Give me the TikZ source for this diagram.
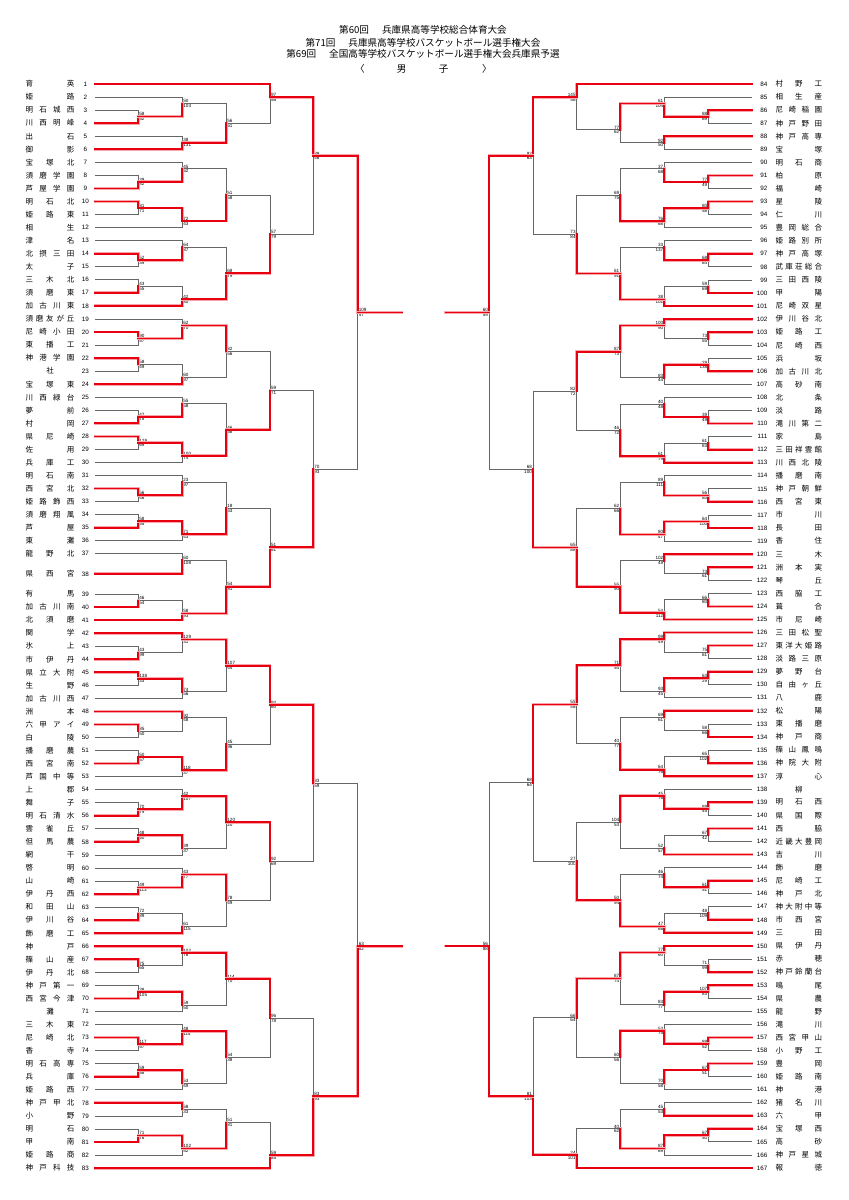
\documentclass[tikz,border=0pt]{standalone}
\usepackage{fontspec}
\setmainfont{Liberation Sans}
\newfontfamily\jp{Noto Sans CJK JP}
\usetikzlibrary{calc}
\pgfdeclarelayer{top}
\pgfsetlayers{main,top}
\definecolor{myred}{RGB}{232,0,16}
\makeatletter
\newdimen\namew
\def\spreadname#1{\hbox to \namew{\sp@first#1\sp@end}}
\def\sp@first#1{#1\sp@next}
\def\sp@next#1{\ifx#1\sp@end\else\hfil#1\expandafter\sp@next\fi}
\def\sp@end{\sp@end}
\makeatother
\pgfmathdeclarefunction{yl}{1}{\pgfmathparse{84+(#1-1)*13.05+14*(#1>38)+7*(#1==38)}}
\pgfmathdeclarefunction{yr}{1}{\pgfmathparse{84+(#1-84)*13.06}}
\def\xLa{138.3}\def\xLb{182.3}\def\xLc{226.3}\def\xLd{270}\def\xLe{313.3}\def\xLf{357.7}
\def\xRa{708.3}\def\xRb{664.3}\def\xRc{620.3}\def\xRd{576.7}\def\xRe{533}\def\xRf{489}
\tikzset{
 lose/.style={draw=black!60, line width=0.8pt},
 win/.style={draw=myred, line width=1.7pt, line cap=rect, preaction={draw=myred!35, line width=2.9pt, line cap=rect}},
 nm/.style={inner sep=0pt, font=\jp\fontsize{7.5}{8}\selectfont},
 num/.style={inner sep=0pt, font=\fontsize{6.3}{7}\selectfont},
 sc/.style={inner sep=0pt, font=\fontsize{4.6}{5}\selectfont},
 ttl/.style={inner sep=0pt, font=\jp\fontsize{9.6}{11}\selectfont},
}
% team on left / right
\newcommand\TL[2]{%
 \coordinate (L#1) at (95,{yl(#1)});
 \node[num] (Ln#1) at (85.5,{yl(#1)}) {#1};
 \node[nm] (Lt#1) at (50,{yl(#1)}) {\spreadname{#2}};}
\newcommand\TR[2]{%
 \coordinate (R#1) at (751.7,{yr(#1)});
 \node[num, anchor=east] (Rn#1) at (767.5,{yr(#1)}) {#1};
 \node[nm] (Rt#1) at (798.85,{yr(#1)}) {\spreadname{#2}};}
% match: name, x, y, top, bottom, winner, top score, bottom score
\newcommand\MM[8]{%
 \coordinate (#1) at (#2,{#3});
 \if#6T
  \draw[lose] (#5) -- (#5 -| #1) -- (#1);
  \begin{pgfonlayer}{top}\draw[win] (#4) -- (#4 -| #1) -- (#1);\end{pgfonlayer}
 \else
  \draw[lose] (#4) -- (#4 -| #1) -- (#1);
  \begin{pgfonlayer}{top}\draw[win] (#5) -- (#5 -| #1) -- (#1);\end{pgfonlayer}
 \fi}
\newcommand\ML[8]{\MM{#1}{#2}{#3}{#4}{#5}{#6}{#7}{#8}%
 \node[sc, anchor=south west] (#1a) at ($(#1)+(0.9,-0.5)$) {#7};
 \node[sc, anchor=north west] (#1b) at ($(#1)+(0.9,0.7)$) {#8};}
\newcommand\MR[8]{\MM{#1}{#2}{#3}{#4}{#5}{#6}{#7}{#8}%
 \node[sc, anchor=south east] (#1a) at ($(#1)+(-0.9,-0.5)$) {#7};
 \node[sc, anchor=north east] (#1b) at ($(#1)+(-0.9,0.7)$) {#8};}
\begin{document}
\begin{tikzpicture}[x=1pt,y=-1pt]
\fill[white] (0,0) rectangle (849,1200);
\useasboundingbox (0,0) rectangle (849,1200);
% titles
\node[ttl] (ti1) at (423,30.3) {第60回\hspace{13pt}兵庫県高等学校総合体育大会};
\node[ttl] (ti2) at (423,43) {第71回\hspace{13pt}兵庫県高等学校バスケットボール選手権大会};
\node[ttl] (ti3) at (423,54) {第69回\hspace{13pt}全国高等学校バスケットボール選手権大会兵庫県予選};
\node[ttl] (ti4a) at (360,69) {〈};
\node[ttl] (ti4b) at (401.7,69) {男};
\node[ttl] (ti4c) at (443.7,69) {子};
\node[ttl] (ti4d) at (487,69) {〉};
% left teams
\global\namew=48.8pt
\TL{1}{育英}\TL{2}{姫路}\TL{3}{明石城西}\TL{4}{川西明峰}\TL{5}{出石}\TL{6}{御影}
\TL{7}{宝塚北}\TL{8}{須磨学園}\TL{9}{芦屋学園}\TL{10}{明石北}\TL{11}{姫路東}\TL{12}{相生}
\TL{13}{津名}\TL{14}{北摂三田}\TL{15}{太子}\TL{16}{三木北}\TL{17}{須磨東}\TL{18}{加古川東}
\TL{19}{須磨友が丘}\TL{20}{尼崎小田}\TL{21}{東播工}\TL{22}{神港学園}\TL{23}{\hfil 社\hfil}\TL{24}{宝塚東}
\TL{25}{川西緑台}\TL{26}{夢前}\TL{27}{村岡}\TL{28}{県尼崎}\TL{29}{佐用}\TL{30}{兵庫工}
\TL{31}{明石南}\TL{32}{西宮北}\TL{33}{姫路飾西}\TL{34}{須磨翔風}\TL{35}{芦屋}\TL{36}{東灘}
\TL{37}{龍野北}\TL{38}{県西宮}\TL{39}{有馬}\TL{40}{加古川南}\TL{41}{北須磨}
\TL{42}{関学}\TL{43}{氷上}\TL{44}{市伊丹}\TL{45}{県立大附}\TL{46}{生野}\TL{47}{加古川西}
\TL{48}{洲本}\TL{49}{六甲アイ}\TL{50}{白陵}\TL{51}{播磨農}\TL{52}{西宮南}\TL{53}{芦国中等}
\TL{54}{上郡}\TL{55}{舞子}\TL{56}{明石清水}\TL{57}{雲雀丘}\TL{58}{但馬農}\TL{59}{網干}
\TL{60}{啓明}\TL{61}{山崎}\TL{62}{伊丹西}\TL{63}{和田山}\TL{64}{伊川谷}\TL{65}{飾磨工}
\TL{66}{神戸}\TL{67}{篠山産}\TL{68}{伊丹北}\TL{69}{神戸第一}\TL{70}{西宮今津}\TL{71}{\hfil 灘\hfil}
\TL{72}{三木東}\TL{73}{尼崎北}\TL{74}{香寺}\TL{75}{明石高専}\TL{76}{兵庫}\TL{77}{姫路西}
\TL{78}{神戸甲北}\TL{79}{小野}\TL{80}{明石}\TL{81}{甲南}\TL{82}{姫路商}\TL{83}{神戸科技}
% right teams
\global\namew=46.5pt
\TR{84}{村野工}\TR{85}{相生産}\TR{86}{尼崎稲園}\TR{87}{神戸野田}\TR{88}{神戸高専}\TR{89}{宝塚}
\TR{90}{明石商}\TR{91}{柏原}\TR{92}{福崎}\TR{93}{星陵}\TR{94}{仁川}\TR{95}{豊岡総合}
\TR{96}{姫路別所}\TR{97}{神戸高塚}\TR{98}{武庫荘総合}\TR{99}{三田西陵}\TR{100}{甲陽}\TR{101}{尼崎双星}
\TR{102}{伊川谷北}\TR{103}{姫路工}\TR{104}{尼崎西}\TR{105}{浜坂}\TR{106}{加古川北}\TR{107}{高砂南}
\TR{108}{北条}\TR{109}{淡路}\TR{110}{滝川第二}\TR{111}{家島}\TR{112}{三田祥雲館}\TR{113}{川西北陵}
\TR{114}{播磨南}\TR{115}{神戸朝鮮}\TR{116}{西宮東}\TR{117}{市川}\TR{118}{長田}\TR{119}{香住}
\TR{120}{三木}\TR{121}{洲本実}\TR{122}{琴丘}\TR{123}{西脇工}\TR{124}{葺合}\TR{125}{市尼崎}
\TR{126}{三田松聖}\TR{127}{東洋大姫路}\TR{128}{淡路三原}\TR{129}{夢野台}\TR{130}{自由ヶ丘}\TR{131}{八鹿}
\TR{132}{松陽}\TR{133}{東播磨}\TR{134}{神戸商}\TR{135}{篠山鳳鳴}\TR{136}{神院大附}\TR{137}{淳心}
\TR{138}{\hfil 柳\hfil}\TR{139}{明石西}\TR{140}{県国際}\TR{141}{西脇}\TR{142}{近畿大豊岡}\TR{143}{吉川}
\TR{144}{飾磨}\TR{145}{尼崎工}\TR{146}{神戸北}\TR{147}{神大附中等}\TR{148}{市西宮}\TR{149}{三田}
\TR{150}{県伊丹}\TR{151}{赤穂}\TR{152}{神戸鈴蘭台}\TR{153}{鳴尾}\TR{154}{県農}\TR{155}{龍野}
\TR{156}{滝川}\TR{157}{西宮甲山}\TR{158}{小野工}\TR{159}{豊岡}\TR{160}{姫路南}\TR{161}{神港}
\TR{162}{猪名川}\TR{163}{六甲}\TR{164}{宝塚西}\TR{165}{高砂}\TR{166}{神戸星城}\TR{167}{報徳}
% left top block
\ML{m3t4}{\xLa}{yl(3.5)}{L3}{L4}{B}{58}{62}
\ML{m2t4}{\xLb}{yl(2.5)}{L2}{m3t4}{B}{50}{103}
\ML{m5t6}{\xLb}{yl(5.5)}{L5}{L6}{B}{38}{131}
\ML{m2t6}{\xLc}{yl(4)}{m2t4}{m5t6}{B}{56}{61}
\ML{m1t6}{\xLd}{yl(2)}{L1}{m2t6}{T}{97}{56}
\ML{m8t9}{\xLa}{yl(8.5)}{L8}{L9}{B}{39}{82}
\ML{m7t9}{\xLb}{yl(7.5)}{L7}{m8t9}{B}{45}{62}
\ML{m10t11}{\xLa}{yl(10.5)}{L10}{L11}{T}{81}{71}
\ML{m10t12}{\xLb}{yl(11.5)}{m10t11}{L12}{T}{72}{43}
\ML{m7t12}{\xLc}{yl(9.5)}{m7t9}{m10t12}{B}{51}{58}
\ML{m14t15}{\xLa}{yl(14.5)}{L14}{L15}{T}{52}{39}
\ML{m13t15}{\xLb}{yl(13.5)}{L13}{m14t15}{B}{64}{87}
\ML{m16t17}{\xLa}{yl(16.5)}{L16}{L17}{B}{43}{55}
\ML{m16t18}{\xLb}{yl(17.5)}{m16t17}{L18}{B}{42}{80}
\ML{m13t18}{\xLc}{yl(15.5)}{m13t15}{m16t18}{B}{68}{79}
\ML{m7t18}{\xLd}{yl(12.5)}{m7t12}{m13t18}{B}{57}{79}
\ML{m1t18}{\xLe}{yl(6.5)}{m1t6}{m7t18}{T}{89}{46}
\ML{m20t21}{\xLa}{yl(20.5)}{L20}{L21}{T}{90}{57}
\ML{m19t21}{\xLb}{yl(19.5)}{L19}{m20t21}{B}{62}{70}
\ML{m22t23}{\xLa}{yl(22.5)}{L22}{L23}{T}{58}{49}
\ML{m22t24}{\xLb}{yl(23.5)}{m22t23}{L24}{B}{60}{97}
\ML{m19t24}{\xLc}{yl(21.5)}{m19t21}{m22t24}{T}{82}{56}
\ML{m26t27}{\xLa}{yl(26.5)}{L26}{L27}{B}{47}{78}
\ML{m25t27}{\xLb}{yl(25.5)}{L25}{m26t27}{B}{55}{58}
\ML{m28t29}{\xLa}{yl(28.5)}{L28}{L29}{T}{129}{69}
\ML{m28t30}{\xLb}{yl(29.5)}{m28t29}{L30}{T}{100}{74}
\ML{m25t30}{\xLc}{yl(27.5)}{m25t27}{m28t30}{B}{46}{68}
\ML{m19t30}{\xLd}{yl(24.5)}{m19t24}{m25t30}{B}{59}{71}
\ML{m32t33}{\xLa}{yl(32.5)}{L32}{L33}{T}{56}{46}
\ML{m31t33}{\xLb}{yl(31.5)}{L31}{m32t33}{B}{23}{97}
\ML{m34t35}{\xLa}{yl(34.5)}{L34}{L35}{B}{58}{65}
\ML{m34t36}{\xLb}{yl(35.5)}{m34t35}{L36}{T}{71}{43}
\ML{m31t36}{\xLc}{yl(33.5)}{m31t33}{m34t36}{B}{18}{63}
\ML{m37t38}{\xLb}{560.3}{L37}{L38}{B}{60}{108}
\ML{m39t40}{\xLa}{yl(39.5)}{L39}{L40}{B}{46}{54}
\ML{m39t41}{\xLb}{yl(40.5)}{m39t40}{L41}{B}{58}{93}
\ML{m37t41}{\xLc}{586.7}{m37t38}{m39t41}{B}{54}{81}
\ML{m31t41}{\xLd}{yl(36.5)}{m31t36}{m37t41}{B}{51}{61}
\ML{m19t41}{\xLe}{yl(30.5)}{m19t30}{m31t41}{B}{70}{93}
\ML{m1t41}{\xLf}{yl(18.5)}{m1t18}{m19t41}{T}{109}{47}
% left bottom block
\ML{m43t44}{\xLa}{yl(43.5)}{L43}{L44}{B}{43}{99}
\ML{m42t44}{\xLb}{yl(42.5)}{L42}{m43t44}{T}{129}{31}
\ML{m45t46}{\xLa}{yl(45.5)}{L45}{L46}{T}{138}{33}
\ML{m45t47}{\xLb}{yl(46.5)}{m45t46}{L47}{T}{74}{56}
\ML{m42t47}{\xLc}{yl(44.5)}{m42t44}{m45t47}{T}{107}{44}
\ML{m49t50}{\xLa}{yl(49.5)}{L49}{L50}{T}{85}{50}
\ML{m48t50}{\xLb}{yl(48.5)}{L48}{m49t50}{T}{92}{48}
\ML{m51t52}{\xLa}{yl(51.5)}{L51}{L52}{B}{50}{57}
\ML{m51t53}{\xLb}{yl(52.5)}{m51t52}{L53}{T}{118}{37}
\ML{m48t53}{\xLc}{yl(50.5)}{m48t50}{m51t53}{B}{45}{96}
\ML{m42t53}{\xLd}{yl(47.5)}{m42t47}{m48t53}{T}{92}{60}
\ML{m55t56}{\xLa}{yl(55.5)}{L55}{L56}{B}{70}{79}
\ML{m54t56}{\xLb}{yl(54.5)}{L54}{m55t56}{B}{42}{107}
\ML{m57t58}{\xLa}{yl(57.5)}{L57}{L58}{B}{48}{50}
\ML{m57t59}{\xLb}{yl(58.5)}{m57t58}{L59}{T}{39}{37}
\ML{m54t59}{\xLc}{yl(56.5)}{m54t56}{m57t59}{T}{120}{20}
\ML{m61t62}{\xLa}{yl(61.5)}{L61}{L62}{B}{49}{113}
\ML{m60t62}{\xLb}{yl(60.5)}{L60}{m61t62}{B}{43}{77}
\ML{m63t64}{\xLa}{yl(63.5)}{L63}{L64}{B}{72}{89}
\ML{m63t65}{\xLb}{yl(64.5)}{m63t64}{L65}{B}{61}{115}
\ML{m60t65}{\xLc}{yl(62.5)}{m60t62}{m63t65}{T}{78}{49}
\ML{m54t65}{\xLd}{yl(59.5)}{m54t59}{m60t65}{T}{92}{69}
\ML{m42t65}{\xLe}{yl(53.5)}{m42t53}{m54t65}{T}{83}{59}
\ML{m67t68}{\xLa}{yl(67.5)}{L67}{L68}{T}{75}{65}
\ML{m66t68}{\xLb}{yl(66.5)}{L66}{m67t68}{T}{102}{76}
\ML{m69t70}{\xLa}{yl(69.5)}{L69}{L70}{B}{38}{105}
\ML{m69t71}{\xLb}{yl(70.5)}{m69t70}{L71}{T}{59}{50}
\ML{m66t71}{\xLc}{yl(68.5)}{m66t68}{m69t71}{T}{114}{70}
\ML{m73t74}{\xLa}{yl(73.5)}{L73}{L74}{T}{117}{57}
\ML{m72t74}{\xLb}{yl(72.5)}{L72}{m73t74}{B}{48}{114}
\ML{m75t76}{\xLa}{yl(75.5)}{L75}{L76}{B}{59}{68}
\ML{m75t77}{\xLb}{yl(76.5)}{m75t76}{L77}{T}{53}{49}
\ML{m72t77}{\xLc}{yl(74.5)}{m72t74}{m75t77}{T}{64}{38}
\ML{m66t77}{\xLd}{yl(71.5)}{m66t71}{m72t77}{T}{96}{78}
\ML{m78t79}{\xLb}{yl(78.5)}{L78}{L79}{T}{68}{33}
\ML{m80t81}{\xLa}{yl(80.5)}{L80}{L81}{B}{71}{76}
\ML{m80t82}{\xLb}{yl(81.5)}{m80t81}{L82}{T}{102}{52}
\ML{m78t82}{\xLc}{yl(79.5)}{m78t79}{m80t82}{B}{51}{81}
\ML{m78t83}{\xLd}{yl(82)}{m78t82}{L83}{B}{59}{85}
\ML{m66t83}{\xLe}{yl(77.5)}{m66t77}{m78t83}{B}{83}{93}
\ML{m42t83}{\xLf}{yl(66)}{m42t65}{m66t83}{B}{63}{82}
% right top block
\MR{m86t87}{\xRa}{yr(86.5)}{R86}{R87}{T}{88}{69}
\MR{m85t87}{\xRb}{yr(85.5)}{R85}{m86t87}{B}{61}{104}
\MR{m88t89}{\xRb}{yr(88.5)}{R88}{R89}{T}{92}{50}
\MR{m85t89}{\xRc}{yr(87.5)}{m85t87}{m88t89}{T}{77}{62}
\MR{m84t89}{\xRd}{yr(85)}{R84}{m85t89}{T}{145}{58}
\MR{m91t92}{\xRa}{yr(91.5)}{R91}{R92}{T}{77}{49}
\MR{m90t92}{\xRb}{yr(90.5)}{R90}{m91t92}{B}{37}{68}
\MR{m93t94}{\xRa}{yr(93.5)}{R93}{R94}{T}{80}{58}
\MR{m93t95}{\xRb}{yr(94.5)}{m93t94}{R95}{T}{76}{68}
\MR{m90t95}{\xRc}{yr(92.5)}{m90t92}{m93t95}{B}{69}{75}
\MR{m97t98}{\xRa}{yr(97.5)}{R97}{R98}{T}{68}{64}
\MR{m96t98}{\xRb}{yr(96.5)}{R96}{m97t98}{B}{33}{137}
\MR{m99t100}{\xRa}{yr(99.5)}{R99}{R100}{B}{59}{69}
\MR{m99t101}{\xRb}{yr(100.5)}{m99t100}{R101}{B}{38}{101}
\MR{m96t101}{\xRc}{yr(98.5)}{m96t98}{m99t101}{B}{61}{91}
\MR{m90t101}{\xRd}{yr(95.5)}{m90t95}{m96t101}{B}{73}{84}
\MR{m84t101}{\xRe}{yr(89.5)}{m84t89}{m90t101}{T}{92}{63}
\MR{m103t104}{\xRa}{yr(103.5)}{R103}{R104}{T}{73}{55}
\MR{m102t104}{\xRb}{yr(102.5)}{R102}{m103t104}{T}{100}{90}
\MR{m105t106}{\xRa}{yr(105.5)}{R105}{R106}{B}{29}{138}
\MR{m105t107}{\xRb}{yr(106.5)}{m105t106}{R107}{T}{83}{44}
\MR{m102t107}{\xRc}{yr(104.5)}{m102t104}{m105t107}{T}{87}{73}
\MR{m109t110}{\xRa}{yr(109.5)}{R109}{R110}{B}{39}{49}
\MR{m108t110}{\xRb}{yr(108.5)}{R108}{m109t110}{B}{40}{48}
\MR{m111t112}{\xRa}{yr(111.5)}{R111}{R112}{B}{61}{83}
\MR{m111t113}{\xRb}{yr(112.5)}{m111t112}{R113}{B}{61}{79}
\MR{m108t113}{\xRc}{yr(110.5)}{m108t110}{m111t113}{B}{46}{72}
\MR{m102t113}{\xRd}{yr(107.5)}{m102t107}{m108t113}{T}{82}{72}
\MR{m115t116}{\xRa}{yr(115.5)}{R115}{R116}{B}{56}{80}
\MR{m114t116}{\xRb}{yr(114.5)}{R114}{m115t116}{B}{89}{111}
\MR{m117t118}{\xRa}{yr(117.5)}{R117}{R118}{B}{64}{100}
\MR{m117t119}{\xRb}{yr(118.5)}{m117t118}{R119}{T}{80}{47}
\MR{m114t119}{\xRc}{yr(116.5)}{m114t116}{m117t119}{B}{62}{66}
\MR{m121t122}{\xRa}{yr(121.5)}{R121}{R122}{T}{73}{61}
\MR{m120t122}{\xRb}{yr(120.5)}{R120}{m121t122}{T}{102}{49}
\MR{m123t124}{\xRa}{yr(123.5)}{R123}{R124}{B}{66}{80}
\MR{m123t125}{\xRb}{yr(124.5)}{m123t124}{R125}{B}{54}{112}
\MR{m120t125}{\xRc}{yr(122.5)}{m120t122}{m123t125}{B}{55}{90}
\MR{m114t125}{\xRd}{yr(119.5)}{m114t119}{m120t125}{B}{65}{88}
\MR{m102t125}{\xRe}{yr(113.5)}{m102t113}{m114t125}{B}{68}{100}
\MR{m84t125}{\xRf}{yr(101.5)}{m84t101}{m102t125}{T}{60}{59}
% right bottom block
\MR{m127t128}{\xRa}{yr(127.5)}{R127}{R128}{T}{75}{61}
\MR{m126t128}{\xRb}{yr(126.5)}{R126}{m127t128}{T}{99}{49}
\MR{m129t130}{\xRa}{yr(129.5)}{R129}{R130}{T}{63}{29}
\MR{m129t131}{\xRb}{yr(130.5)}{m129t130}{R131}{T}{93}{45}
\MR{m126t131}{\xRc}{yr(128.5)}{m126t128}{m129t131}{T}{71}{54}
\MR{m133t134}{\xRa}{yr(133.5)}{R133}{R134}{B}{58}{66}
\MR{m132t134}{\xRb}{yr(132.5)}{R132}{m133t134}{T}{69}{61}
\MR{m135t136}{\xRa}{yr(135.5)}{R135}{R136}{B}{65}{102}
\MR{m135t137}{\xRb}{yr(136.5)}{m135t136}{R137}{B}{64}{76}
\MR{m132t137}{\xRc}{yr(134.5)}{m132t134}{m135t137}{B}{40}{77}
\MR{m126t137}{\xRd}{yr(131.5)}{m126t131}{m132t137}{T}{55}{46}
\MR{m139t140}{\xRa}{yr(139.5)}{R139}{R140}{T}{88}{45}
\MR{m138t140}{\xRb}{yr(138.5)}{R138}{m139t140}{B}{45}{76}
\MR{m141t142}{\xRa}{yr(141.5)}{R141}{R142}{T}{67}{42}
\MR{m141t143}{\xRb}{yr(142.5)}{m141t142}{R143}{B}{52}{57}
\MR{m138t143}{\xRc}{yr(140.5)}{m138t140}{m141t143}{T}{104}{53}
\MR{m145t146}{\xRa}{yr(145.5)}{R145}{R146}{T}{61}{51}
\MR{m144t146}{\xRb}{yr(144.5)}{R144}{m145t146}{B}{46}{74}
\MR{m147t148}{\xRa}{yr(147.5)}{R147}{R148}{B}{48}{109}
\MR{m147t149}{\xRb}{yr(148.5)}{m147t148}{R149}{B}{47}{68}
\MR{m144t149}{\xRc}{yr(146.5)}{m144t146}{m147t149}{B}{50}{94}
\MR{m138t149}{\xRd}{yr(143.5)}{m138t143}{m144t149}{B}{27}{100}
\MR{m126t149}{\xRe}{yr(137.5)}{m126t137}{m138t149}{T}{68}{64}
\MR{m151t152}{\xRa}{yr(151.5)}{R151}{R152}{B}{71}{99}
\MR{m150t152}{\xRb}{yr(150.5)}{R150}{m151t152}{T}{77}{60}
\MR{m153t154}{\xRa}{yr(153.5)}{R153}{R154}{T}{107}{83}
\MR{m153t155}{\xRb}{yr(154.5)}{m153t154}{R155}{T}{83}{77}
\MR{m150t155}{\xRc}{yr(152.5)}{m150t152}{m153t155}{T}{87}{74}
\MR{m157t158}{\xRa}{yr(157.5)}{R157}{R158}{T}{88}{52}
\MR{m156t158}{\xRb}{yr(156.5)}{R156}{m157t158}{B}{53}{75}
\MR{m159t160}{\xRa}{yr(159.5)}{R159}{R160}{T}{67}{51}
\MR{m159t161}{\xRb}{yr(160.5)}{m159t160}{R161}{T}{70}{58}
\MR{m156t161}{\xRc}{yr(158.5)}{m156t158}{m159t161}{T}{60}{56}
\MR{m150t161}{\xRd}{yr(155.5)}{m150t155}{m156t161}{T}{66}{64}
\MR{m162t163}{\xRb}{yr(162.5)}{R162}{R163}{B}{45}{53}
\MR{m164t165}{\xRa}{yr(164.5)}{R164}{R165}{T}{67}{50}
\MR{m164t166}{\xRb}{yr(165.5)}{m164t165}{R166}{T}{87}{69}
\MR{m162t166}{\xRc}{yr(164)}{m162t163}{m164t166}{B}{40}{62}
\MR{m162t167}{\xRd}{yr(166)}{m162t166}{R167}{B}{24}{101}
\MR{m150t167}{\xRe}{yr(161.5)}{m150t161}{m162t167}{B}{81}{103}
\MR{m126t167}{\xRf}{yr(150)}{m126t149}{m150t167}{B}{56}{88}
% block winners' lines toward the centre
\coordinate (LTend) at (402,{yl(18.5)});
\coordinate (LBend) at (402,{yl(66)});
\coordinate (RTend) at (445.7,{yr(101.5)});
\coordinate (RBend) at (445.7,{yr(150)});
\begin{pgfonlayer}{top}
\draw[win] (m1t41) -- (LTend);
\draw[win] (m42t83) -- (LBend);
\draw[win] (m84t125) -- (RTend);
\draw[win] (m126t167) -- (RBend);
\end{pgfonlayer}
\end{tikzpicture}
\end{document}
